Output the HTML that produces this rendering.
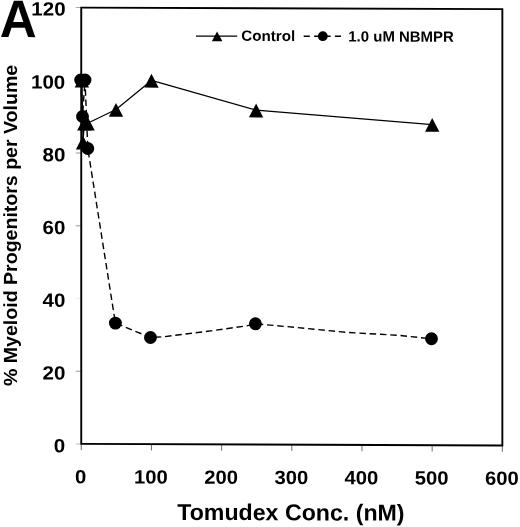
<!DOCTYPE html>
<html><head><meta charset="utf-8"><title>Figure A</title>
<style>
html,body{margin:0;padding:0;background:#fff;}
body{width:520px;height:527px;overflow:hidden;}
svg{display:block;}
text{font-family:"Liberation Sans",Arial,Helvetica,sans-serif;font-weight:bold;fill:#000;}
</style></head><body>
<svg width="520" height="527" viewBox="0 0 520 527">
<rect width="520" height="527" fill="#fff"/>

<g transform="matrix(1,0.0037,0,1,0,-0.3)">
<line x1="81.25" y1="443.9" x2="81.25" y2="450.2" stroke="#666" stroke-width="0.95"/>
<line x1="151.43" y1="443.9" x2="151.43" y2="450.2" stroke="#666" stroke-width="0.95"/>
<line x1="221.62" y1="443.9" x2="221.62" y2="450.2" stroke="#666" stroke-width="0.95"/>
<line x1="291.80" y1="443.9" x2="291.80" y2="450.2" stroke="#666" stroke-width="0.95"/>
<line x1="361.98" y1="443.9" x2="361.98" y2="450.2" stroke="#666" stroke-width="0.95"/>
<line x1="432.17" y1="443.9" x2="432.17" y2="450.2" stroke="#666" stroke-width="0.95"/>
<line x1="502.35" y1="443.9" x2="502.35" y2="450.2" stroke="#666" stroke-width="0.95"/>
<line x1="75.75" y1="443.90" x2="81.25" y2="443.90" stroke="#bbb" stroke-width="1"/>
<line x1="75.75" y1="371.18" x2="81.25" y2="371.18" stroke="#999" stroke-width="1"/>
<line x1="75.75" y1="298.47" x2="81.25" y2="298.47" stroke="#eee" stroke-width="1"/>
<line x1="75.75" y1="225.75" x2="81.25" y2="225.75" stroke="#999" stroke-width="1"/>
<line x1="75.75" y1="153.03" x2="81.25" y2="153.03" stroke="#999" stroke-width="1"/>
<line x1="75.75" y1="80.32" x2="81.25" y2="80.32" stroke="#999" stroke-width="1"/>
<line x1="75.75" y1="7.60" x2="81.25" y2="7.60" stroke="#aaa" stroke-width="1"/>
<rect x="81.25" y="7.6" width="421.1" height="436.29999999999995" fill="none" stroke="#000" stroke-width="1.9"/>
<polyline points="81.90,80.20 83.00,142.39 84.30,123.29 87.60,123.28 116.00,109.37 151.50,80.19 256.10,109.55 432.20,123.25" fill="none" stroke="#000" stroke-width="1.25" stroke-linejoin="round"/>
<polyline points="80.70,80.00 82.50,116.49 85.00,79.99 87.80,148.48 115.40,322.97 150.50,337.24 165.00,336.29 205.00,331.14 246.00,325.39 255.40,323.16 294.60,326.51 346.50,331.42 398.50,334.13 431.50,337.50" fill="none" stroke="#000" stroke-width="1.4" stroke-dasharray="6.5 3.8" stroke-linejoin="round"/>
<polygon points="81.90,73.60 89.05,87.40 74.75,87.40"/>
<polygon points="83.00,135.79 90.15,149.59 75.85,149.59"/>
<polygon points="84.30,116.69 91.45,130.49 77.15,130.49"/>
<polygon points="87.60,116.68 94.75,130.48 80.45,130.48"/>
<polygon points="116.00,102.77 123.15,116.57 108.85,116.57"/>
<polygon points="151.50,73.59 158.65,87.39 144.35,87.39"/>
<polygon points="256.10,102.95 263.25,116.75 248.95,116.75"/>
<polygon points="432.20,116.65 439.35,130.45 425.05,130.45"/>
<circle cx="80.70" cy="80.00" r="6.45"/>
<circle cx="82.50" cy="116.49" r="6.45"/>
<circle cx="85.00" cy="79.99" r="6.45"/>
<circle cx="87.80" cy="148.48" r="6.45"/>
<circle cx="115.40" cy="322.97" r="6.45"/>
<circle cx="150.50" cy="337.24" r="6.45"/>
<circle cx="255.40" cy="323.16" r="6.45"/>
<circle cx="431.50" cy="337.50" r="6.45"/>
<line x1="196" y1="35.67" x2="237.2" y2="35.52" stroke="#000" stroke-width="1.2"/>
<polygon points="217.10,30.90 222.35,40.70 211.85,40.70"/>
<text transform="translate(241.30,40.21) scale(1.02,1)" font-size="14.9" text-anchor="start">Control</text>
<line x1="303.7" y1="35.48" x2="341.3" y2="35.34" stroke="#000" stroke-width="1.5" stroke-dasharray="6.1 4.3"/>
<circle cx="322.80" cy="35.31" r="4.9"/>
<text transform="translate(348.30,40.51) scale(1.005,1)" font-size="14.9" text-anchor="start">1.0 uM NBMPR</text>
<text transform="translate(-0.20,37.30) scale(0.97,1)" font-size="52.8" text-anchor="start">A</text>
<text transform="translate(31.30,15.58) scale(1.07,1)" font-size="19.2" text-anchor="start">120</text>
<text transform="translate(65.30,452.31) scale(1.07,1)" font-size="19.2" text-anchor="end">0</text>
<text transform="translate(65.30,379.59) scale(1.07,1)" font-size="19.2" text-anchor="end">20</text>
<text transform="translate(65.30,306.88) scale(1.07,1)" font-size="19.2" text-anchor="end">40</text>
<text transform="translate(65.30,234.16) scale(1.07,1)" font-size="19.2" text-anchor="end">60</text>
<text transform="translate(65.30,161.44) scale(1.07,1)" font-size="19.2" text-anchor="end">80</text>
<text transform="translate(65.30,88.73) scale(1.07,1)" font-size="19.2" text-anchor="end">100</text>
<text transform="translate(80.75,483.20) scale(1.055,1)" font-size="19.2" text-anchor="middle">0</text>
<text transform="translate(150.93,483.20) scale(1.055,1)" font-size="19.2" text-anchor="middle">100</text>
<text transform="translate(221.12,483.20) scale(1.055,1)" font-size="19.2" text-anchor="middle">200</text>
<text transform="translate(291.30,483.20) scale(1.055,1)" font-size="19.2" text-anchor="middle">300</text>
<text transform="translate(361.48,483.20) scale(1.055,1)" font-size="19.2" text-anchor="middle">400</text>
<text transform="translate(431.67,483.20) scale(1.055,1)" font-size="19.2" text-anchor="middle">500</text>
<text transform="translate(501.85,483.20) scale(1.055,1)" font-size="19.2" text-anchor="middle">600</text>
<text transform="translate(290.90,519.52) scale(1.008,1)" font-size="23.0" text-anchor="middle">Tomudex Conc. (nM)</text>
<text transform="translate(17.10,225.64) rotate(-90) scale(1.03,1)" font-size="19" text-anchor="middle">% Myeloid Progenitors per Volume</text>
</g></svg></body></html>
